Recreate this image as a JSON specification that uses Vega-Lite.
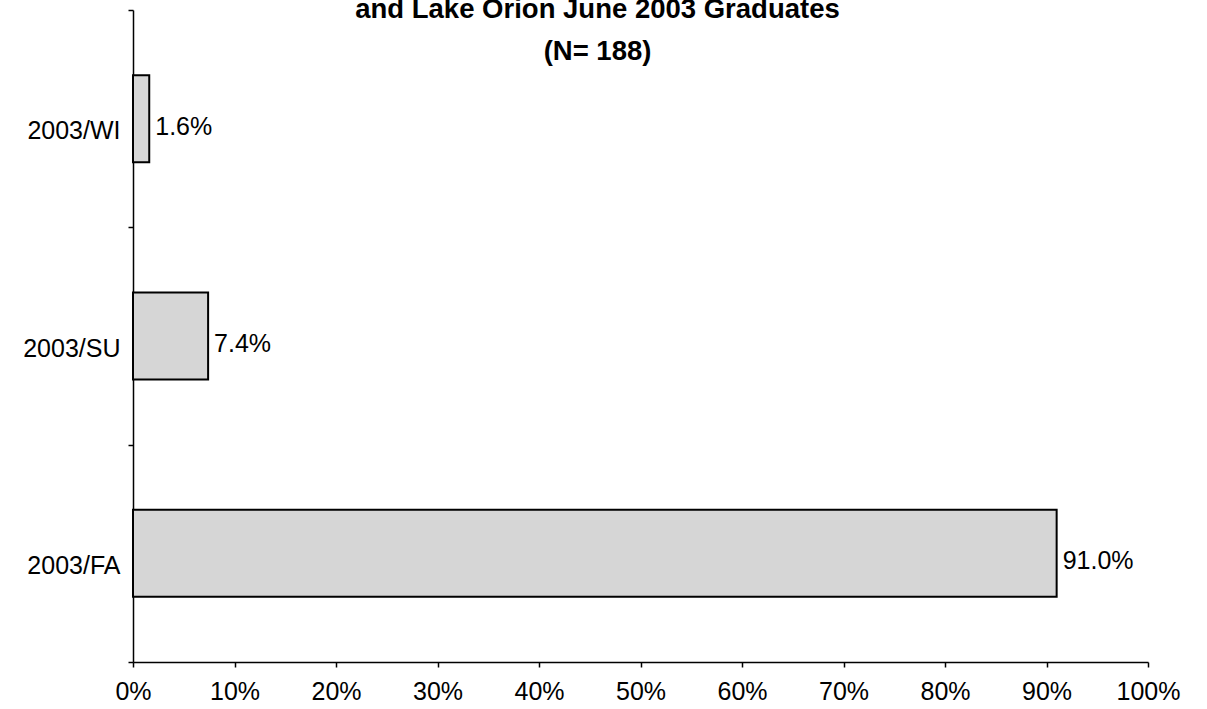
{
  "$schema": "https://vega.github.io/schema/vega-lite/v6.json",
  "width": 1015,
  "height": 652,
  "autosize": {"type": "none"},
  "padding": {"left": 133, "top": 10, "right": 59, "bottom": 47},
  "background": "white",
  "title": {
    "text": ["and Lake Orion June 2003 Graduates", "(N= 188)"],
    "font": "Liberation Sans",
    "fontSize": 27.5,
    "fontWeight": "bold",
    "color": "black",
    "anchor": "middle",
    "baseline": "alphabetic",
    "lineHeight": 42,
    "offset": -89,
    "dx": -43
  },
  "data": {
    "values": [
      {"term": "2003/WI", "pct": 0.016},
      {"term": "2003/SU", "pct": 0.074},
      {"term": "2003/FA", "pct": 0.91}
    ]
  },
  "config": {
    "view": {"stroke": null},
    "axis": {
      "labelFont": "Liberation Sans",
      "labelFontSize": 25,
      "labelColor": "black",
      "domainColor": "black",
      "domainWidth": 1.5,
      "tickColor": "black",
      "tickWidth": 1.5,
      "tickSize": 5,
      "grid": false,
      "title": null
    }
  },
  "encoding": {
    "y": {
      "field": "term",
      "type": "nominal",
      "sort": ["2003/WI", "2003/SU", "2003/FA"],
      "scale": {"paddingInner": 0, "paddingOuter": 0},
      "axis": {"tickBand": "extent", "labelPadding": 8, "labelOffset": 12}
    },
    "x": {
      "field": "pct",
      "type": "quantitative",
      "scale": {"domain": [0, 1], "nice": false},
      "axis": {
        "values": [0, 0.1, 0.2, 0.3, 0.4, 0.5, 0.6, 0.7, 0.8, 0.9, 1],
        "format": ".0%",
        "labelPadding": 12,
        "labelFlush": false
      }
    }
  },
  "layer": [
    {
      "mark": {"type": "bar", "fill": "#d6d6d6", "stroke": "black", "strokeWidth": 2, "height": {"band": 0.4}}
    },
    {
      "mark": {
        "type": "text",
        "align": "left",
        "baseline": "middle",
        "dx": 6,
        "dy": 8,
        "font": "Liberation Sans",
        "fontSize": 25,
        "color": "black"
      },
      "encoding": {"text": {"field": "pct", "type": "quantitative", "format": ".1%"}}
    }
  ]
}
